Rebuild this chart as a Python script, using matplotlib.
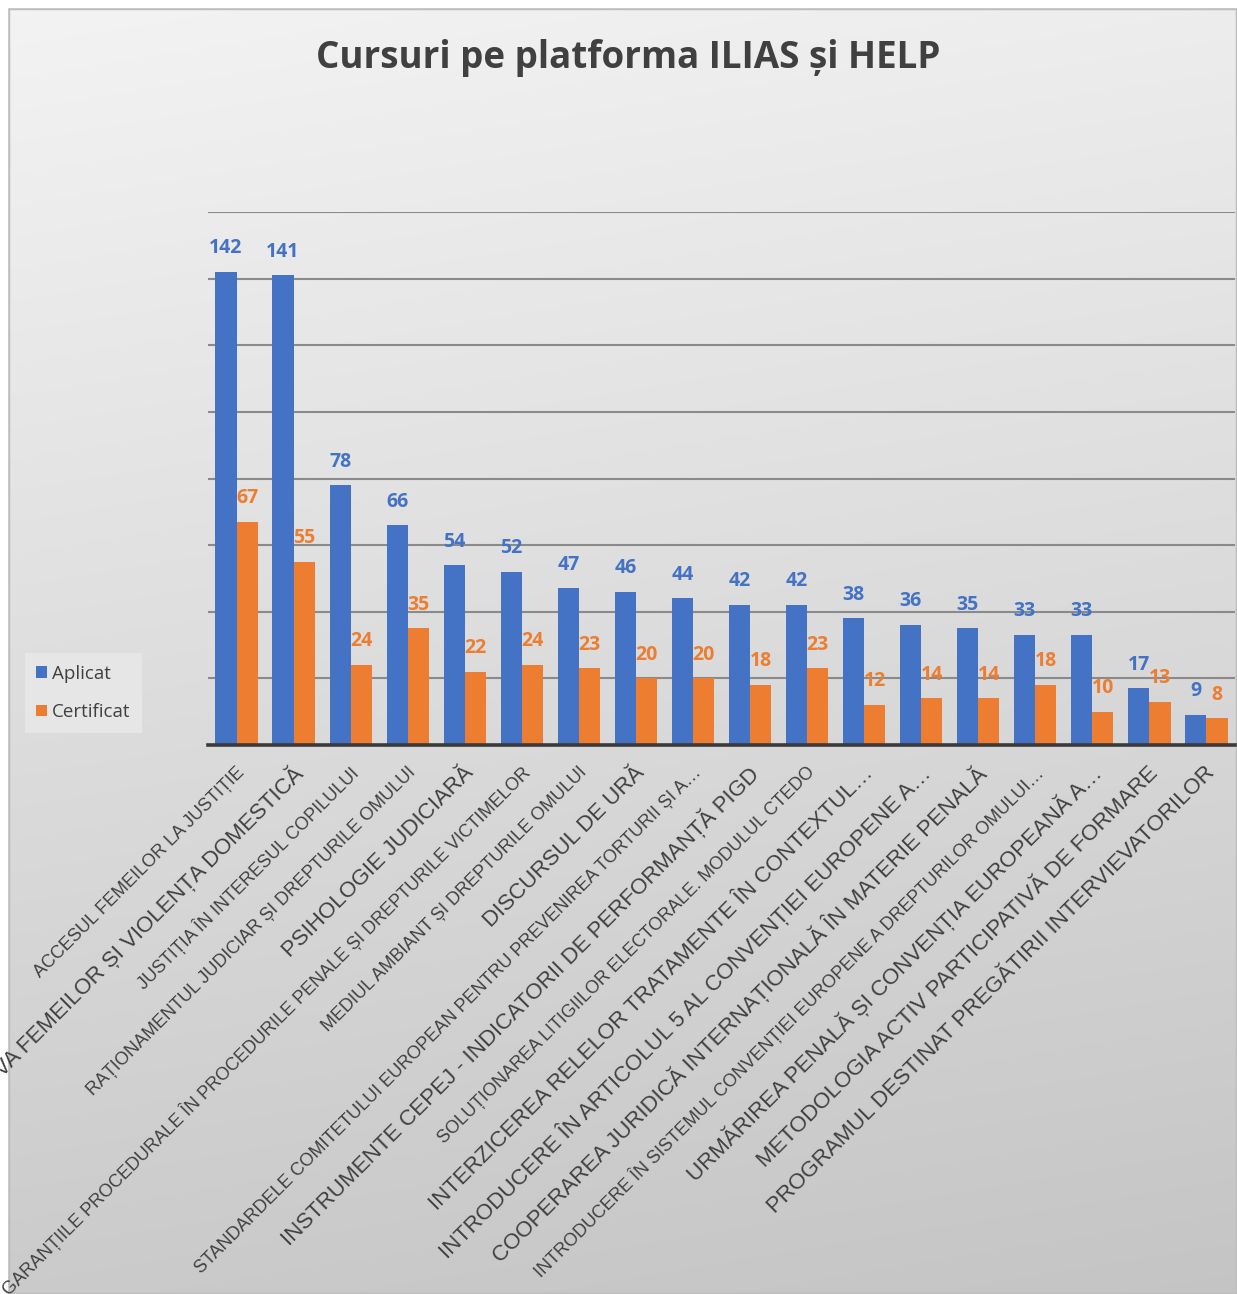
import numpy as np
import matplotlib
matplotlib.use("Agg")
import matplotlib.pyplot as plt
import matplotlib.transforms as mtransforms
from matplotlib.patches import Rectangle

# ---------------- data ----------------
categories = [
    "ACCESUL FEMEILOR LA JUSTIȚIE",
    "VIOLENȚA ÎMPOTRIVA FEMEILOR ȘI VIOLENȚA DOMESTICĂ",
    "JUSTIȚIA ÎN INTERESUL COPILULUI",
    "RAȚIONAMENTUL JUDICIAR ȘI DREPTURILE OMULUI",
    "PSIHOLOGIE JUDICIARĂ",
    "GARANȚIILE PROCEDURALE ÎN PROCEDURILE PENALE ȘI DREPTURILE VICTIMELOR",
    "MEDIUL AMBIANT ȘI DREPTURILE OMULUI",
    "DISCURSUL DE URĂ",
    "STANDARDELE COMITETULUI EUROPEAN PENTRU PREVENIREA TORTURII ȘI A…",
    "INSTRUMENTE CEPEJ - INDICATORII DE PERFORMANȚĂ PIGD",
    "SOLUȚIONAREA LITIGIILOR ELECTORALE. MODULUL CTEDO",
    "INTERZICEREA RELELOR TRATAMENTE ÎN CONTEXTUL…",
    "INTRODUCERE ÎN ARTICOLUL 5 AL CONVENȚIEI EUROPENE A…",
    "COOPERAREA JURIDICĂ INTERNAȚIONALĂ ÎN MATERIE PENALĂ",
    "INTRODUCERE ÎN SISTEMUL CONVENȚIEI EUROPENE A DREPTURILOR OMULUI…",
    "URMĂRIREA PENALĂ ȘI CONVENȚIA EUROPEANĂ A…",
    "METODOLOGIA ACTIV PARTICIPATIVĂ DE FORMARE",
    "PROGRAMUL DESTINAT PREGĂTIRII INTERVIEVATORILOR",
]
# label style: True = large font, False = small font
label_large = [False, True, False, False, True, False, False, True, False,
               True, False, True, True, True, False, True, True, True]
aplicat = [142, 141, 78, 66, 54, 52, 47, 46, 44, 42, 42, 38, 36, 35, 33, 33, 17, 9]
certificat = [67, 55, 24, 35, 22, 24, 23, 20, 20, 18, 23, 12, 14, 14, 18, 10, 13, 8]
series_names = ["Aplicat", "Certificat"]
title = "Cursuri pe platforma ILIAS și HELP"
y_max = 160
y_step = 20

# ---------------- style ----------------
BLUE = "#4472C4"
ORANGE = "#ED7D31"
TXT = "#404040"
W, H = 1237, 1294
DPI = 100

fig = plt.figure(figsize=(W / DPI, H / DPI), dpi=DPI)
fig.patch.set_facecolor("white")

# background gradient
bg = fig.add_axes([0, 0, 1, 1], zorder=-10)
yy, xx = np.mgrid[0:H, 0:W]
val = 0.955 - 0.16 * (yy / H) - 0.025 * (xx / W)
img = np.dstack([val, val, val])
bg.imshow(img, extent=[0, W, H, 0], aspect="auto", interpolation="bilinear")
bg.add_patch(Rectangle((8, 8), W - 8, H - 8, fill=False, edgecolor="#bdbdbd", lw=2.5))
bg.fill_between([0, W], 0, 7, color="white")
bg.fill_between([0, 7], 0, H, color="white")
bg.set_xlim(0, W)
bg.set_ylim(H, 0)
bg.axis("off")

# main axes
left = 208 / W
right = 1235 / W
bottom = (H - 745) / H
top = (H - 212) / H
ax = fig.add_axes([left, bottom, right - left, top - bottom])
ax.patch.set_alpha(0)

x = np.arange(len(categories))
bw = 0.37
b1 = ax.bar(x - bw / 2, aplicat, bw, color=BLUE, label=series_names[0], zorder=3)
b2 = ax.bar(x + bw / 2, certificat, bw, color=ORANGE, label=series_names[1], zorder=3)

ax.set_xlim(-0.5, len(categories) - 0.5)
ax.set_ylim(0, y_max)
ax.set_yticks(np.arange(y_step, y_max + 1, y_step))
ax.yaxis.grid(True, color="#8a8a8a", lw=1.5, zorder=0)
ax.set_axisbelow(True)
ax.tick_params(left=False, labelleft=False, bottom=False, labelbottom=False)
for s in ["left", "right", "top"]:
    ax.spines[s].set_visible(False)
ax.spines["bottom"].set_color("#3a3a3a")
ax.spines["bottom"].set_linewidth(2.6)
ax.spines["bottom"].set_zorder(5)

# value labels
lab_off = mtransforms.ScaledTranslation(0, 17 / 72, fig.dpi_scale_trans)
for xi, v in zip(x, aplicat):
    ax.text(xi - bw / 2, v, str(v), transform=ax.transData + lab_off,
            ha="center", va="center", color=BLUE, fontsize=14,
            fontweight="bold", family="Open Sans", clip_on=False)
for xi, v in zip(x, certificat):
    ax.text(xi + bw / 2, v, str(v), transform=ax.transData + lab_off,
            ha="center", va="center", color=ORANGE, fontsize=14,
            fontweight="bold", family="Open Sans", clip_on=False)

# rotated category labels
blend = mtransforms.blended_transform_factory(ax.transData, ax.transAxes)
cat_off = mtransforms.ScaledTranslation(4 / 72, -18 / 72, fig.dpi_scale_trans)
for xi, lab, big in zip(x, categories, label_large):
    ax.text(xi, 0, lab, transform=blend + cat_off, rotation=45,
            rotation_mode="anchor", ha="right", va="center",
            fontsize=16 if big else 13, color=TXT,
            family="Liberation Sans", clip_on=False)

# title
fig.text(628 / W, 1 - 58 / H, title, ha="center", va="center",
         fontsize=26.5, fontweight="bold", color=TXT, family="Open Sans")

# legend
leg = fig.legend(handles=[b1, b2], labels=series_names,
                 loc="center left", bbox_to_anchor=(25 / W, 1 - 693 / H),
                 bbox_transform=fig.transFigure, borderaxespad=0,
                 frameon=True, fancybox=False,
                 prop={"family": "Open Sans", "size": 13.5},
                 handlelength=0.55, handleheight=0.55, handletextpad=0.3,
                 labelspacing=1.1, borderpad=0.6)
leg.get_frame().set_facecolor("#e9e9e9")
leg.get_frame().set_edgecolor("none")
leg.get_frame().set_alpha(0.8)
for t in leg.get_texts():
    t.set_color(TXT)

fig.savefig("out.png", dpi=DPI)
